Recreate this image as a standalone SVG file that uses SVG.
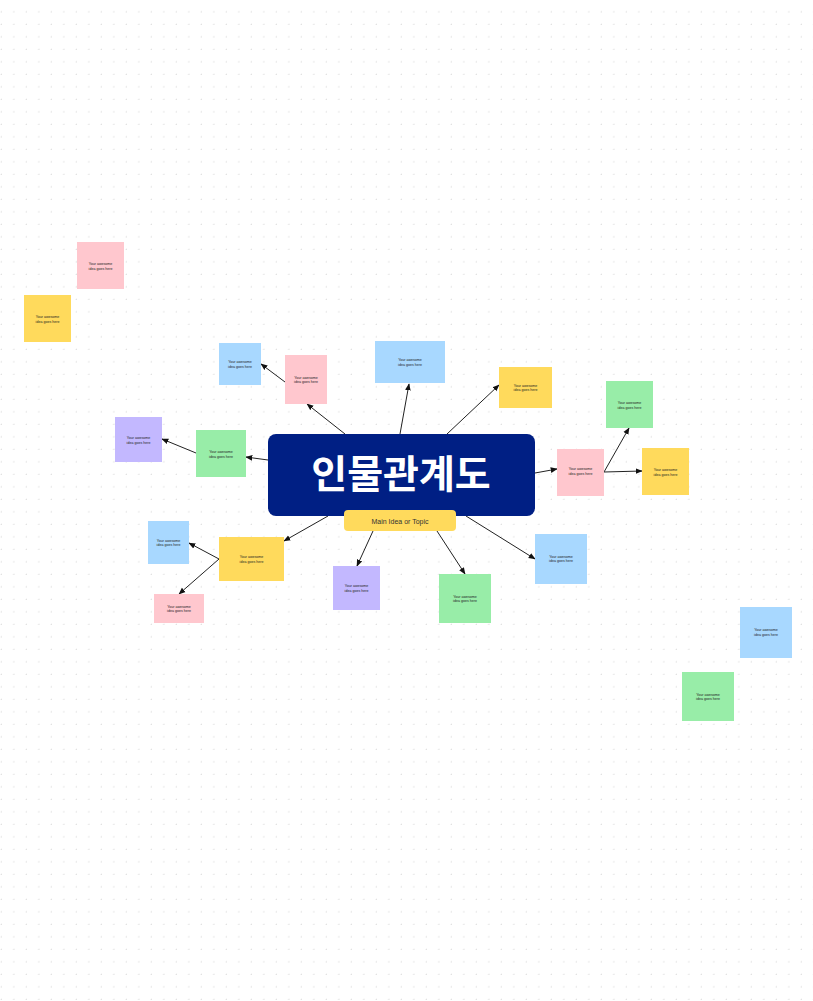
<svg xmlns="http://www.w3.org/2000/svg" width="813" height="1001" viewBox="0 0 813 1001">
<defs>
<pattern id="grid" x="-10.5" y="0" width="12.5" height="12.5" patternUnits="userSpaceOnUse">
<path d="M11 12.5h3M12.5 11v3" stroke="#d8d8d8" stroke-width="1" fill="none"/>
</pattern>
<marker id="ar" viewBox="0 0 10 10" refX="9" refY="5" markerWidth="7" markerHeight="7" orient="auto"><path d="M0 1L10 5L0 9z" fill="#111"/></marker>
</defs>
<style>
.s text{font-family:"Liberation Sans",Arial,sans-serif;font-size:3.6px;fill:#222;text-anchor:middle}
.pk{fill:#FFC7CE}.ye{fill:#FFDA5C}.bl{fill:#A8D8FF}.gr{fill:#98EDA8}.pu{fill:#C3B8FF}
#connectors line{stroke:#222;stroke-width:1;marker-end:url(#ar)}
</style>
<rect width="813" height="1001" fill="#fff"/>
<rect width="813" height="1001" fill="url(#grid)"/>
<g id="connectors">
<line x1="345" y1="434" x2="307" y2="404"/>
<line x1="285" y1="382" x2="261" y2="364"/>
<line x1="400" y1="434" x2="409" y2="384"/>
<line x1="447" y1="434" x2="499" y2="385"/>
<line x1="535" y1="473" x2="557" y2="469"/>
<line x1="604" y1="472" x2="629" y2="428"/>
<line x1="604" y1="472" x2="642" y2="471"/>
<line x1="268" y1="460" x2="246" y2="457"/>
<line x1="196" y1="453" x2="162" y2="439"/>
<line x1="328" y1="516" x2="284" y2="541"/>
<line x1="219" y1="559" x2="189" y2="543"/>
<line x1="219" y1="559" x2="179" y2="594"/>
<line x1="373" y1="531" x2="357" y2="566"/>
<line x1="437" y1="531" x2="465" y2="574"/>
<line x1="466" y1="516" x2="535" y2="559"/>
</g>
<g id="main"><rect x="268" y="434" width="267" height="82" rx="8" fill="#001F84"/>
<text x="401" y="488" font-family="'Noto Sans CJK KR',sans-serif" font-weight="bold" font-size="39" fill="#fff" text-anchor="middle">인물관계도</text></g>
<g id="subtitle"><rect x="344" y="510" width="112" height="21" rx="4" fill="#FFDA5C"/>
<text x="400" y="523.5" font-family="'Liberation Sans',Arial,sans-serif" font-size="7" fill="#333" text-anchor="middle">Main Idea or Topic</text></g>
<g id="n1" class="s"><rect class="pk" x="77" y="242" width="47" height="47"/><text x="100.5" y="265">Your awesome</text><text x="100.5" y="269.5">idea goes here</text></g>
<g id="n2" class="s"><rect class="ye" x="24" y="295" width="47" height="47"/><text x="47.5" y="318">Your awesome</text><text x="47.5" y="322.5">idea goes here</text></g>
<g id="n3" class="s"><rect class="bl" x="219" y="343" width="42" height="42"/><text x="240" y="363">Your awesome</text><text x="240" y="367.5">idea goes here</text></g>
<g id="n4" class="s"><rect class="pk" x="285" y="355" width="42" height="49"/><text x="306" y="378.5">Your awesome</text><text x="306" y="383">idea goes here</text></g>
<g id="n5" class="s"><rect class="bl" x="375" y="341" width="70" height="42"/><text x="410" y="361">Your awesome</text><text x="410" y="365.5">idea goes here</text></g>
<g id="n6" class="s"><rect class="ye" x="499" y="367" width="53" height="41"/><text x="525.5" y="386.5">Your awesome</text><text x="525.5" y="391">idea goes here</text></g>
<g id="n7" class="s"><rect class="gr" x="606" y="381" width="47" height="47"/><text x="629.5" y="404">Your awesome</text><text x="629.5" y="408.5">idea goes here</text></g>
<g id="n8" class="s"><rect class="pk" x="557" y="449" width="47" height="47"/><text x="580.5" y="470">Your awesome</text><text x="580.5" y="474.5">idea goes here</text></g>
<g id="n9" class="s"><rect class="ye" x="642" y="448" width="47" height="47"/><text x="665.5" y="471">Your awesome</text><text x="665.5" y="475.5">idea goes here</text></g>
<g id="n10" class="s"><rect class="pu" x="115" y="417" width="47" height="45"/><text x="138.5" y="439">Your awesome</text><text x="138.5" y="443.5">idea goes here</text></g>
<g id="n11" class="s"><rect class="gr" x="196" y="430" width="50" height="47"/><text x="221" y="453">Your awesome</text><text x="221" y="457.5">idea goes here</text></g>
<g id="n12" class="s"><rect class="bl" x="148" y="521" width="41" height="43"/><text x="168.5" y="541.5">Your awesome</text><text x="168.5" y="546">idea goes here</text></g>
<g id="n13" class="s"><rect class="ye" x="219" y="537" width="65" height="44"/><text x="251.5" y="558">Your awesome</text><text x="251.5" y="562.5">idea goes here</text></g>
<g id="n14" class="s"><rect class="pk" x="154" y="594" width="50" height="29"/><text x="179" y="607.5">Your awesome</text><text x="179" y="612">idea goes here</text></g>
<g id="n15" class="s"><rect class="pu" x="333" y="566" width="47" height="44"/><text x="356.5" y="587">Your awesome</text><text x="356.5" y="591.5">idea goes here</text></g>
<g id="n16" class="s"><rect class="gr" x="439" y="574" width="52" height="49"/><text x="465" y="597.5">Your awesome</text><text x="465" y="602">idea goes here</text></g>
<g id="n17" class="s"><rect class="bl" x="535" y="534" width="52" height="50"/><text x="561" y="557.5">Your awesome</text><text x="561" y="562">idea goes here</text></g>
<g id="n18" class="s"><rect class="bl" x="740" y="607" width="52" height="51"/><text x="766" y="631">Your awesome</text><text x="766" y="635.5">idea goes here</text></g>
<g id="n19" class="s"><rect class="gr" x="682" y="672" width="52" height="49"/><text x="708" y="695.5">Your awesome</text><text x="708" y="700">idea goes here</text></g>
</svg>
